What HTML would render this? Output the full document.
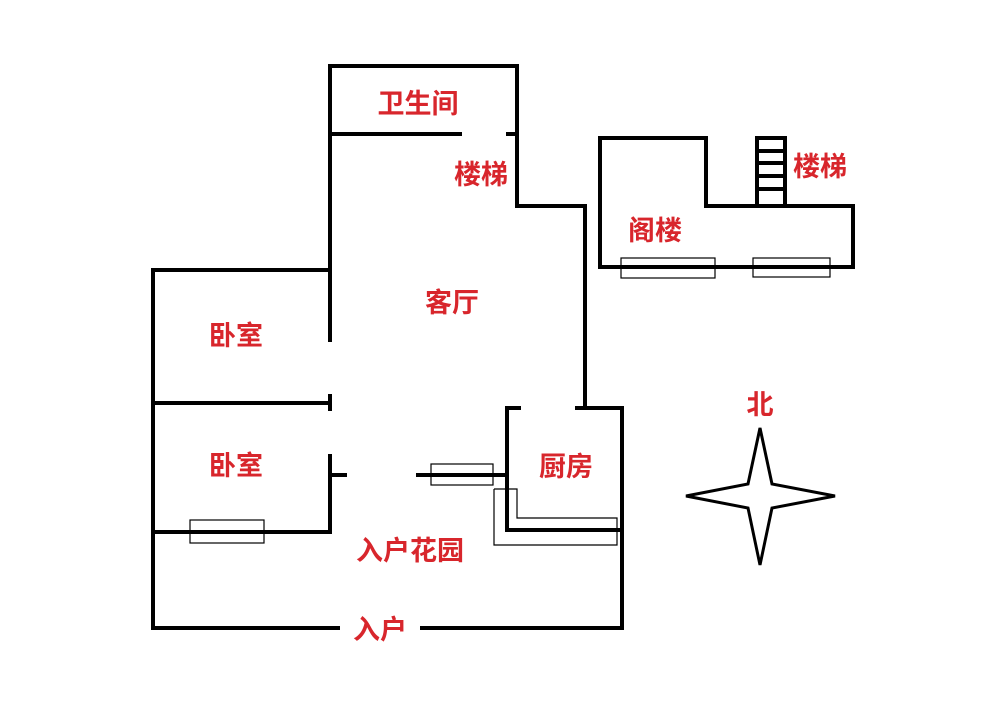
<!DOCTYPE html>
<html><head><meta charset="utf-8"><style>
html,body{margin:0;padding:0;background:#fff;}
svg{display:block}
text{font-family:"Liberation Sans","Noto Sans CJK SC",sans-serif;font-weight:bold;font-size:27px;fill:#d8262c;text-anchor:middle;dominant-baseline:central}
</style></head><body>
<svg width="1000" height="712" viewBox="0 0 1000 712" xmlns="http://www.w3.org/2000/svg">
<g stroke="#000" stroke-width="4" fill="none" stroke-linecap="square">
<polyline points="330,270 330,66 517,66 517,206 585,206 585,408"/>
<line x1="330" y1="134" x2="460" y2="134"/>
<line x1="508" y1="134" x2="517" y2="134"/>
<line x1="330" y1="270" x2="330" y2="340"/>
<line x1="153" y1="270" x2="330" y2="270"/>
<line x1="153" y1="270" x2="153" y2="628"/>
<line x1="153" y1="403" x2="330" y2="403"/>
<line x1="330" y1="396" x2="330" y2="409"/>
<polyline points="330,456 330,532 153,532"/>
<line x1="330" y1="475" x2="345" y2="475"/>
<line x1="418" y1="475" x2="507" y2="475"/>
<polyline points="519,408 507,408 507,530 622,530"/>
<polyline points="577,408 622,408 622,628 422,628"/>
<line x1="153" y1="628" x2="338" y2="628"/>
<polygon points="600,138 706,138 706,206 853,206 853,267 600,267"/>
<rect x="757" y="138" width="28" height="68"/>
<line x1="757" y1="151" x2="785" y2="151"/>
<line x1="757" y1="163" x2="785" y2="163"/>
<line x1="757" y1="176" x2="785" y2="176"/>
<line x1="757" y1="189" x2="785" y2="189"/>
</g>
<g stroke="#000" stroke-width="1.2" fill="none">
<rect x="190" y="520" width="74" height="23"/>
<rect x="431" y="464" width="62" height="21"/>
<polyline points="494,489 517,489 517,518 617,518 617,545 494,545 494,489"/>
<rect x="621" y="258" width="94" height="20"/>
<rect x="753" y="258" width="77" height="19"/>
</g>
<polygon points="760,428 772,484 835,496 772,508 760,565 748,508 686,496 748,484" fill="#fff" stroke="#000" stroke-width="3"/>
<text x="418" y="104">卫生间</text>
<text x="481" y="175">楼梯</text>
<text x="452" y="303">客厅</text>
<text x="236" y="336">卧室</text>
<text x="236" y="466">卧室</text>
<text x="566" y="467">厨房</text>
<text x="410" y="551">入户花园</text>
<text x="380" y="630">入户</text>
<text x="655" y="231">阁楼</text>
<text x="820" y="167">楼梯</text>
<text x="760" y="405">北</text>
</svg>
</body></html>
